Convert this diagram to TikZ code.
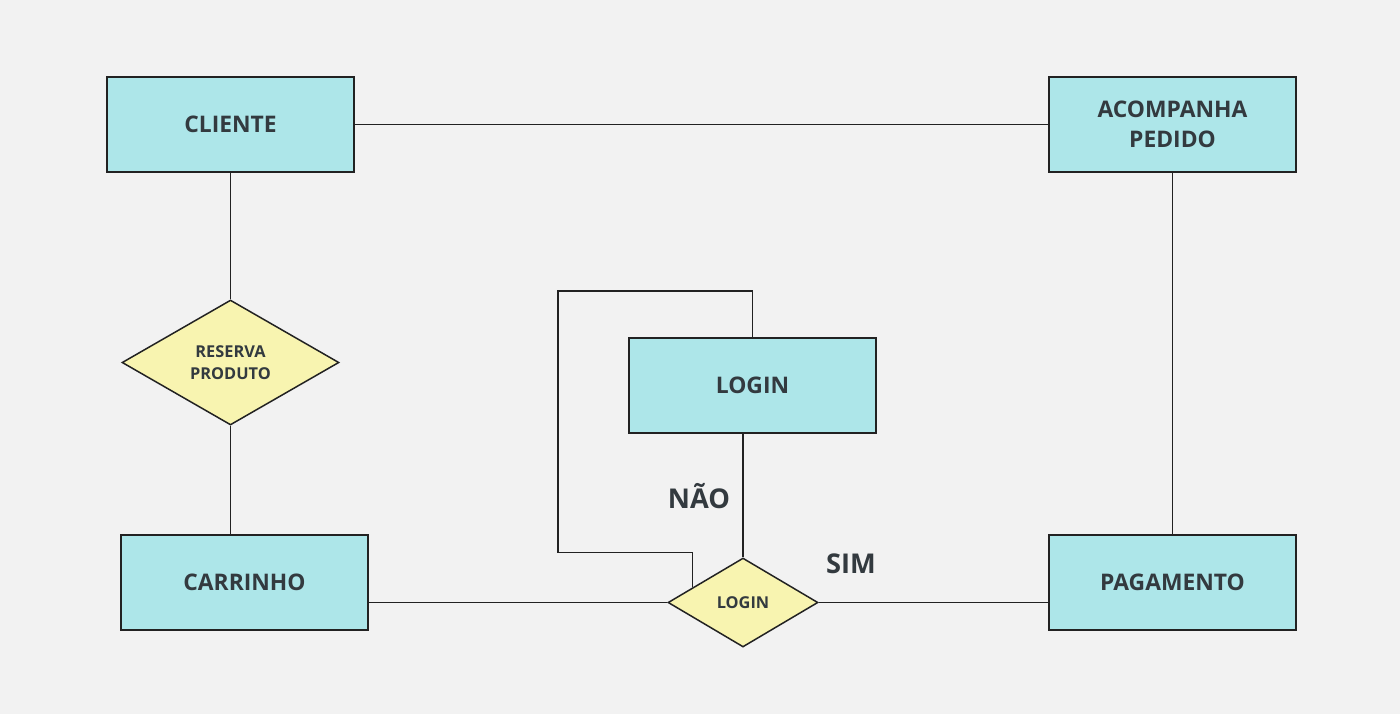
\documentclass[tikz,border=0pt]{standalone}
\usepackage{fontspec}
\setmainfont{Open Sans}
\usetikzlibrary{shapes.geometric}
\usetikzlibrary{calc}
\definecolor{fundo}{HTML}{F2F2F2}
\definecolor{caixa}{HTML}{ADE6E9}
\definecolor{losango}{HTML}{F8F4B0}
\definecolor{texto}{HTML}{333A3F}
\definecolor{linha}{HTML}{222222}
\begin{document}
\begin{tikzpicture}[x=0.02cm,y=-0.02cm,line width=0.85pt,
	entidade/.style={draw=linha,fill=caixa,minimum width=4.94cm,minimum height=1.9cm,
		text=texto,font=\fontsize{13}{17}\selectfont\bfseries,align=center},
	relacao/.style={draw=linha,fill=losango,diamond,inner sep=0pt,
		text=texto,font=\fontsize{9.3}{12.5}\selectfont\bfseries,align=center},
	rotulo/.style={text=texto,font=\fontsize{15.5}{18}\selectfont\bfseries}]
	\fill[fundo] (0,0) rectangle (1400,714);
	\useasboundingbox (0,0) rectangle (1400,714);

	\node[entidade] (cliente) at (230.5,124.5) {CLIENTE};
	\node[entidade] (acompanha) at (1172.5,124.5) {ACOMPANHA\\PEDIDO};
	\node[entidade] (loginbox) at (752.5,385.5) {LOGIN};
	\node[entidade] (carrinho) at (244.5,582.5) {CARRINHO};
	\node[entidade] (pagamento) at (1172.5,582.5) {PAGAMENTO};

	\node[relacao,minimum width=4.34cm,minimum height=2.5cm] (reserva) at (230.5,362.5) {RESERVA\\PRODUTO};
	\node[relacao,minimum width=3cm,minimum height=1.78cm] (logind) at (743,602.5) {LOGIN};

	\node[rotulo] (nao) at (699,496) {NÃO};
	\node[rotulo] (sim) at (851,564) {SIM};

	\coordinate (loopstart) at ($(logind.west)!0.333!(logind.north)$);
	\coordinate (loopcanto) at (558,291);

	\draw[linha] (cliente.east) -- (acompanha.west);
	\draw[linha] (cliente.south) -- (reserva.north);
	\draw[linha] (reserva.south) -- (reserva.south |- carrinho.north);
	\draw[linha] (acompanha.south) -- (pagamento.north);
	\draw[linha] (logind.west -| carrinho.east) -- (logind.west);
	\draw[linha] (logind.east) -- (logind.east -| pagamento.west);
	\draw[linha] (loginbox.south -| logind.north) -- (logind.north);
	\draw[linha] (loopstart) -- ++(0,-35) -| (loopcanto) -| (loginbox.north);
\end{tikzpicture}
\end{document}
